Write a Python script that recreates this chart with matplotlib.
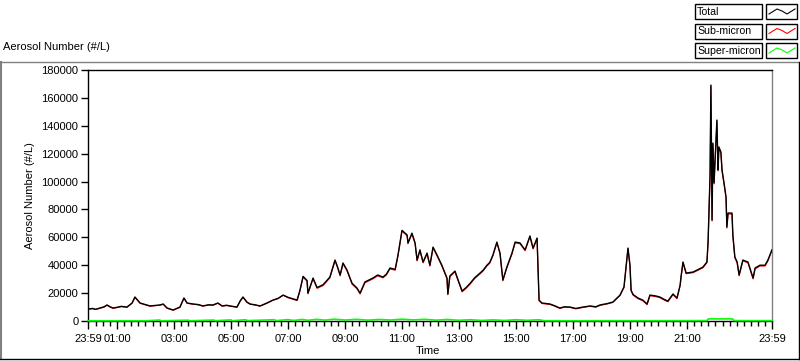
import matplotlib
matplotlib.use("Agg")
import matplotlib.pyplot as plt
from matplotlib.lines import Line2D
from matplotlib.patches import Rectangle

# ---------------- data (hours after midnight) ----------------
time_h = [-0.01, 0.15, 0.25, 0.40, 0.55, 0.65, 0.75, 0.86, 1.00, 1.15, 1.35, 1.53, 1.63, 1.81, 2.00, 2.16,
          2.35, 2.51, 2.62, 2.76, 2.97, 3.10, 3.21, 3.35, 3.46, 3.67, 3.85, 4.02, 4.20, 4.37, 4.54, 4.69,
          4.85, 4.97, 5.21, 5.32, 5.42, 5.56, 5.67, 5.85, 6.02, 6.25, 6.47, 6.65, 6.83, 7.00, 7.32, 7.42,
          7.53, 7.67, 7.70, 7.88, 8.02, 8.23, 8.47, 8.65, 8.72, 8.83, 8.93, 9.07, 9.25, 9.42, 9.53, 9.70,
          9.98, 10.15, 10.33, 10.45, 10.58, 10.76, 10.86, 11.00, 11.18, 11.21, 11.35, 11.46, 11.53, 11.63, 11.74,
          11.88, 11.98, 12.09, 12.23, 12.40, 12.58, 12.61, 12.68, 12.86, 12.97, 13.11, 13.25, 13.39, 13.55, 13.74,
          13.85, 13.98, 14.08,
          14.19, 14.33, 14.44, 14.54, 14.68, 14.86, 14.97, 15.14, 15.32, 15.49, 15.60, 15.74, 15.81, 15.91,
          16.19, 16.35, 16.54, 16.70, 16.90, 17.10, 17.35, 17.60, 17.80, 17.95, 18.20, 18.40, 18.65, 18.79,
          18.93, 19.00, 19.04, 19.11, 19.28, 19.45, 19.60, 19.70, 19.90, 20.05, 20.20, 20.33, 20.51, 20.65,
          20.76, 20.79, 20.86, 20.97, 21.21, 21.40, 21.56, 21.70, 21.74, 21.81, 21.84, 21.88, 21.91, 21.95,
          22.02, 22.05, 22.09, 22.12, 22.19, 22.23, 22.30, 22.37, 22.40, 22.44, 22.58, 22.61, 22.68, 22.76,
          22.83, 22.96, 23.14, 23.32, 23.39, 23.56, 23.74, 23.84, 23.98]

total = [8600, 9000, 8400, 9300, 10200, 11500, 10300, 9300, 9800, 10500, 10000, 12900, 17200, 12900, 11800, 10800,
         11200, 11500, 12200, 9300, 7900, 9000, 10000, 16500, 12900, 12200, 11800, 10800, 11600, 11500, 12900, 10800,
         11300, 10800, 10000, 14300, 17200, 13600, 12200, 11600, 10800, 12800, 15000, 16200, 18600, 17000, 15000, 22000,
         32000, 29000, 20000, 30800, 24000, 26000, 31500, 43700, 40000, 33000, 41600, 36600, 27000, 23700, 20000, 28000,
         30800, 33000, 31500, 33500, 38000, 37000, 47300, 65000, 61700, 56000, 63000, 56000, 43700, 51000, 42300,
         48700, 40000, 53000, 47300, 40000, 30800, 19400, 32300, 35800, 29400, 21500, 24000, 27000, 31000, 34400,
         36500, 40000, 42000,
         47300, 56600, 48700, 29400, 38700, 48700, 56600, 56000, 51000, 61000, 52300, 59500, 15000, 12900,
         12200, 11000, 9300, 10200, 10000, 9000, 10000, 10800, 10200, 11500, 12500, 13600, 18600, 24400,
         52300, 40000, 22000, 19000, 16500, 15000, 12200, 18600, 18000, 17200, 15500, 14300, 19400, 16500,
         25800, 31500, 42300, 34400, 35100, 37000, 38700, 42300, 56600, 104700, 169200, 72400, 127600, 99000,
         129800, 144100, 108300, 124800, 121200, 108300, 99000, 89000, 67400, 77400, 77400, 61700, 45900, 42300,
         33000, 43700, 42300, 30800, 38000, 40000, 40000, 43700, 51000]

sub_micron = [8400, 8800, 8200, 9100, 10000, 11300, 10100, 9100, 9600, 10300, 9800, 12700, 17000, 12700, 11600, 10600,
              11000, 11300, 12000, 9100, 7700, 8800, 9800, 16300, 12700, 12000, 11600, 10600, 11400, 11300, 12700, 10600,
              11100, 10600, 9800, 14100, 17000, 13400, 12000, 11400, 10600, 12600, 14800, 16000, 18400, 16700, 14700, 21600,
              31500, 28500, 19500, 30300, 23400, 25400, 30900, 43100, 39400, 32400, 41000, 36000, 26400, 23100, 19400, 27400,
              30200, 32400, 30900, 32900, 37400, 36400, 46700, 64400, 61100, 55400, 62400, 55400, 43100, 50400, 41700,
              48100, 39400, 52400, 46700, 39400, 30200, 18800, 31700, 35200, 28800, 20900, 23400, 26400, 30400, 33800,
              35900, 39400, 41400,
              46700, 56000, 48100, 28800, 38100, 48100, 56000, 55400, 50400, 60400, 51700, 58900, 14600, 12500,
              11900, 10700, 9000, 9900, 9700, 8700, 9700, 10500, 9900, 11200, 12200, 13300, 18200, 24000,
              51800, 39500, 21500, 18500, 16000, 14500, 11700, 18100, 17500, 16700, 15000, 13800, 18900, 16000,
              25300, 31000, 41800, 33900, 34600, 36500, 38200, 41800, 55900, 104000, 168500, 71700, 126900, 98300,
              129100, 143400, 107600, 124100, 120500, 107600, 98300, 88300, 66700, 76700, 76700, 61000, 45300, 41700,
              32400, 43100, 41700, 30200, 37400, 39400, 39400, 43100, 50400]

super_time = [-0.01, 1.0, 2.0, 2.5, 2.55, 3.5, 3.55, 4.4, 4.45, 5.0, 5.05, 5.5, 5.6, 6.5, 6.6, 7.0, 7.2, 7.5, 7.7,
              8.0, 8.3, 8.6, 9.0, 9.4, 9.8, 10.2, 10.6, 11.0, 11.4, 11.8, 12.2, 12.6, 13.0, 13.4, 13.8, 14.2,
              14.6, 15.0, 15.4, 15.8, 16.0, 17.0, 18.0, 19.0, 20.0, 21.0, 21.7, 21.75, 22.6, 22.65, 23.0, 23.98]
super_micron = [100, 150, 150, 700, 150, 600, 150, 700, 200, 800, 200, 900, 300, 900, 300, 1000, 400, 1100, 500,
                1200, 600, 1300, 700, 1200, 600, 1100, 700, 1300, 800, 1200, 600, 1100, 500, 900, 400, 800,
                400, 900, 500, 900, 200, 150, 200, 200, 200, 250, 300, 1500, 1500, 300, 250, 250]

y_ticks = [0, 20000, 40000, 60000, 80000, 100000, 120000, 140000, 160000, 180000]
x_tick_pos = [-1 / 60, 1, 3, 5, 7, 9, 11, 13, 15, 17, 19, 21, 24 - 1 / 60]
x_tick_labels = ["23:59", "01:00", "03:00", "05:00", "07:00", "09:00", "11:00", "13:00",
                 "15:00", "17:00", "19:00", "21:00", "23:59"]
series_names = ["Total", "Sub-micron", "Super-micron"]
series_colors = ["#000000", "#ff0000", "#00ff00"]

# ---------------- figure ----------------
plt.rcParams['font.family'] = ['Liberation Sans', 'DejaVu Sans']
plt.rcParams['font.size'] = 8

W, H = 800, 361
fig = plt.figure(figsize=(8, 3.61), dpi=100)
fig.patch.set_facecolor("white")


def fx(x):
    return x / W


def fy(y):
    return 1 - y / H


ax = fig.add_axes([fx(88), fy(321), fx(772) - fx(88), fy(70) - fy(321)])
ax.plot(time_h, sub_micron, color=series_colors[1], lw=0.8, zorder=2)
ax.plot(time_h, total, color=series_colors[0], lw=1.0, zorder=3)
ax.plot(super_time, super_micron, color=series_colors[2], lw=1.2, zorder=5, clip_on=False)

ax.set_xlim(-1 / 60, 24 - 1 / 60)
ax.set_ylim(0, 180000)
ax.set_yticks(y_ticks)
ax.set_yticklabels([str(v) for v in y_ticks])
ax.set_xticks(x_tick_pos)
ax.set_xticklabels(x_tick_labels)
ax.set_xticks([i * 0.25 for i in range(1, 96)], minor=True)
ax.tick_params(axis='y', which='major', direction='out', length=5, width=1, pad=2, labelsize=8)
ax.tick_params(axis='x', which='major', direction='out', length=6, width=1, pad=3, labelsize=8)
ax.tick_params(axis='x', which='minor', direction='out', length=3.5, width=1)

for s in ['left', 'top', 'bottom']:
    ax.spines[s].set_color('black')
    ax.spines[s].set_linewidth(1)
ax.spines['right'].set_color('#808080')
ax.spines['right'].set_linewidth(1)

ax.set_ylabel("Aerosol Number (#/L)", fontsize=8)
ax.yaxis.set_label_coords((35 - 88) / 684, 0.5)
ax.set_xlabel("Time", fontsize=8)
ax.xaxis.set_label_coords((428 - 88) / 684, -(351 - 321) / 251)
ax.xaxis.label.set_va('center')

# panel title
fig.text(fx(3), fy(47.5), "Aerosol Number (#/L)", ha='left', va='center', fontsize=8)

# panel border
fig.add_artist(Line2D([fx(0), fx(798)], [fy(61.5), fy(61.5)], color='#808080', lw=1))
fig.add_artist(Line2D([fx(0.7), fx(0.7)], [fy(61.5), fy(358.5)], color='#808080', lw=1.5))
fig.add_artist(Line2D([fx(798.5), fx(798.5)], [fy(61.5), fy(359)], color='black', lw=1))
fig.add_artist(Line2D([fx(0), fx(799)], [fy(358.5), fy(358.5)], color='black', lw=1))

# legend
row_tops = [4, 23.5, 43]
for name, col, top in zip(series_names, series_colors, row_tops):
    h = 15
    fig.add_artist(Rectangle((fx(695), fy(top + h)), fx(762) - fx(695), fy(top) - fy(top + h),
                             facecolor='white', edgecolor='black', lw=1))
    fig.add_artist(Rectangle((fx(766), fy(top + h)), fx(797) - fx(766), fy(top) - fy(top + h),
                             facecolor='white', edgecolor='black', lw=1))
    fig.text(fx(697), fy(top + h / 2 + 0.5), name, ha='left', va='center', fontsize=7.6)
    zx = [769, 777, 782, 787, 795]
    zy = [top + 10, top + 5, top + 7, top + 10, top + 5]
    fig.add_artist(Line2D([fx(v) for v in zx], [fy(v) for v in zy], color=col, lw=0.8))

fig.savefig("out.png", dpi=100, facecolor=fig.get_facecolor())
